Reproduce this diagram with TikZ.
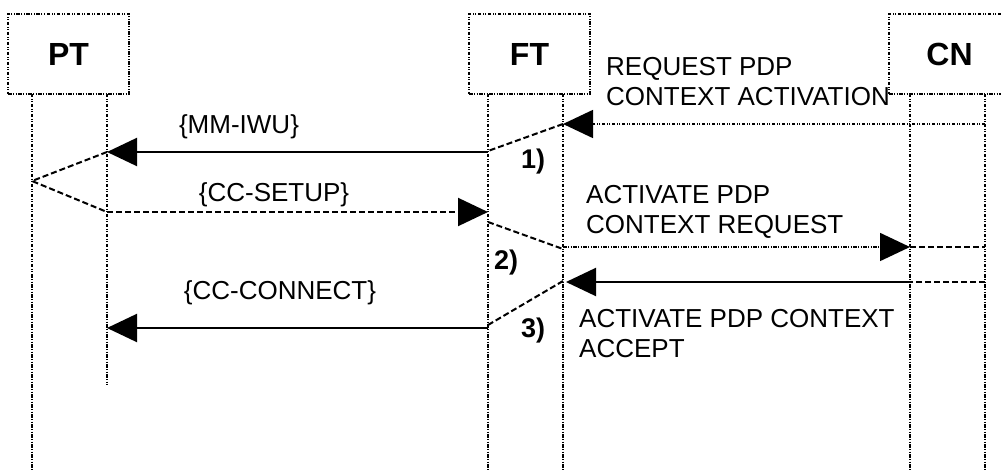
\documentclass[tikz,border=0pt]{standalone}
\usepackage{fontspec}
\setmainfont{Liberation Sans}
\usetikzlibrary{arrows.meta}

\tikzset{
  dashdotdot/.style={dash pattern=on 3.5pt off 1.5pt on 1pt off 1.5pt on 1pt off 1.5pt},
  entity/.style={draw, line width=1.6pt, dashdotdot, minimum width=121pt,
    minimum height=80pt, inner sep=0pt, font=\fontsize{32}{36}\selectfont\bfseries},
  lifeline/.style={line width=1.6pt, dashdotdot},
  solidmsg/.style={line width=2.1pt},
  dashmsg/.style={line width=2pt, dash pattern=on 6pt off 3pt},
  dotmsg/.style={line width=1.6pt, dashdotdot},
  bigtip/.style={-{Triangle[length=30pt,width=28pt]}},
  lbl/.style={inner sep=0pt, font=\fontsize{26}{30}\selectfont, align=left},
  stepnum/.style={inner sep=0pt, font=\fontsize{27}{30}\selectfont\bfseries}
}

\begin{document}
\begin{tikzpicture}[x=1pt,y=-1pt]
\useasboundingbox (0,0) rectangle (1001,470);
\clip (0,0) rectangle (1001,470);

% entities
\node[entity] (pt) at (68.5,54) {PT};
\node[entity] (ft) at (529.5,54) {FT};
\node[entity] (cn) at (949.5,54) {CN};

% lifeline end points
\coordinate (ptLt) at (32,94);   \coordinate (ptLb) at (32,470);
\coordinate (ptRt) at (107,94);  \coordinate (ptRb) at (107,385);
\coordinate (ftLt) at (488,94);  \coordinate (ftLb) at (488,470);
\coordinate (ftRt) at (563,94);  \coordinate (ftRb) at (563,470);
\coordinate (cnLt) at (910,94);  \coordinate (cnLb) at (910,470);
\coordinate (cnRt) at (985,94);  \coordinate (cnRb) at (985,470);

\draw[lifeline] (ptLt) -- (ptLb);
\draw[lifeline] (ptRt) -- (ptRb);
\draw[lifeline] (ftLt) -- (ftLb);
\draw[lifeline] (ftRt) -- (ftRb);
\draw[lifeline] (cnLt) -- (cnLb);
\draw[lifeline] (cnRt) -- (cnRb);

% message anchor points on the lifelines
\coordinate (cnR1) at (985,124);
\coordinate (ftR1) at (563,124);
\coordinate (ftL1) at (488,151);
\coordinate (ftL1m) at (488,152);
\coordinate (ptR1) at (107,152);
\coordinate (ptL2) at (32,181);
\coordinate (ptR2) at (107,212);
\coordinate (ftL2) at (488,212);
\coordinate (ftL3) at (488,222);
\coordinate (ftR3) at (563,249);
\coordinate (ftR3m) at (563,247);
\coordinate (cnL3) at (910,247);
\coordinate (cnR3) at (985,247);
\coordinate (cnR4) at (985,282);
\coordinate (cnL4) at (910,282);
\coordinate (ftR4) at (566,282);
\coordinate (ftR5) at (563,281);
\coordinate (ftL5) at (488,325);
\coordinate (ftL5m) at (488,328);
\coordinate (ptR5) at (107,328);

% REQUEST PDP CONTEXT ACTIVATION and {MM-IWU}
\draw[dotmsg, bigtip] (cnR1) -- (ftR1);
\draw[dashmsg] (ftR1) -- (ftL1);
\draw[solidmsg, bigtip] (ftL1m) -- (ptR1);

% {CC-SETUP}
\draw[dashmsg] (ptR1) -- (ptL2) -- (ptR2);
\draw[dashmsg, bigtip] (ptR2) -- (ftL2);

% ACTIVATE PDP CONTEXT REQUEST
\draw[dashmsg] (ftL3) -- (ftR3);
\draw[dotmsg, bigtip] (ftR3m) -- (cnL3);
\draw[dashmsg] (cnL3) -- (cnR3);

% ACTIVATE PDP CONTEXT ACCEPT and {CC-CONNECT}
\draw[dashmsg] (cnR4) -- (cnL4);
\draw[solidmsg, bigtip] (cnL4) -- (ftR4);
\draw[dashmsg] (ftR5) -- (ftL5);
\draw[solidmsg, bigtip] (ftL5m) -- (ptR5);

% labels
\node[lbl] (mmiwu) at (239,127) {\{MM-IWU\}};
\node[lbl] (ccsetup) at (274,195) {\{CC-SETUP\}};
\node[lbl] (ccconnect) at (280,293) {\{CC-CONNECT\}};
\node[lbl, anchor=west] (reqact) at (606,82) {REQUEST PDP\\CONTEXT ACTIVATION};
\node[lbl, anchor=west] (actreq) at (586,212) {ACTIVATE PDP\\CONTEXT REQUEST};
\node[lbl, anchor=west] (actacc) at (579,334) {ACTIVATE PDP CONTEXT\\ACCEPT};

\node[stepnum] (s1) at (533,162) {1)};
\node[stepnum] (s2) at (506,263) {2)};
\node[stepnum] (s3) at (533,331) {3)};
\end{tikzpicture}
\end{document}
